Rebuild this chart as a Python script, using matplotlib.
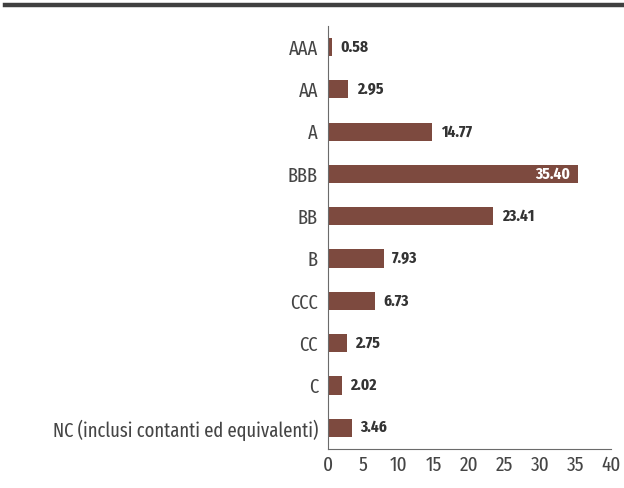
import matplotlib
matplotlib.use("Agg")
import matplotlib.pyplot as plt
from matplotlib.lines import Line2D

categories = ["AAA", "AA", "A", "BBB", "BB", "B", "CCC", "CC", "C",
              "NC (inclusi contanti ed equivalenti)"]
values = [0.58, 2.95, 14.77, 35.40, 23.41, 7.93, 6.73, 2.75, 2.02, 3.46]
labels = ["0.58", "2.95", "14.77", "35.40", "23.41", "7.93", "6.73", "2.75", "2.02", "3.46"]
x_ticks = [0, 5, 10, 15, 20, 25, 30, 35, 40]

plt.rcParams['font.family'] = ['Fira Sans Extra Condensed', 'DejaVu Sans']

fig = plt.figure(figsize=(6.24, 4.88), dpi=100)
ax = fig.add_axes([0.525, 0.080, 0.454, 0.867])

# top rule
fig.add_artist(Line2D([0.008, 1.0], [0.990, 0.990], transform=fig.transFigure,
                      color="#404040", linewidth=3.2))

bar_color = "#7d4a3f"
pos = list(range(len(categories)))
ax.barh(pos, values, height=0.43, color=bar_color)
ax.set_ylim(len(categories) - 0.5, -0.5)
ax.set_xlim(0, 40)
ax.set_yticks(pos)
ax.set_yticklabels(categories)
ax.set_xticks(x_ticks)

# value labels
for i, (v, lab) in enumerate(zip(values, labels)):
    if v == max(values):
        ax.annotate(lab, (v, i), xytext=(-6, 0), textcoords="offset points",
                    ha="right", va="center", color="white", fontsize=12,
                    fontweight="bold")
    else:
        ax.annotate(lab, (v, i), xytext=(6, 0), textcoords="offset points",
                    ha="left", va="center", color="#333333", fontsize=12,
                    fontweight="bold")

ax.tick_params(axis="both", length=0, labelcolor="#454545")
ax.tick_params(axis="y", pad=7, labelsize=14.5)
ax.tick_params(axis="x", pad=5, labelsize=15)
for s in ["top", "right"]:
    ax.spines[s].set_visible(False)
for s in ["left", "bottom"]:
    ax.spines[s].set_color("#6b6b6b")
    ax.spines[s].set_linewidth(0.8)

plt.savefig("out.png", dpi=100)
